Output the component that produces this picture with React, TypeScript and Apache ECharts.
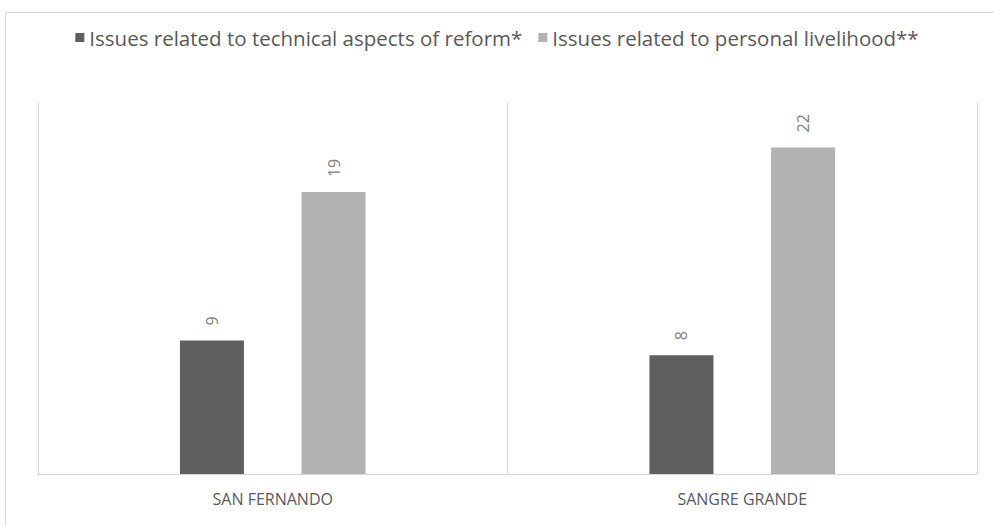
import React, { useEffect, useRef } from "react";
import * as echarts from "echarts";

const categories = ["SAN FERNANDO", "SANGRE GRANDE"];
const seriesNames = [
  "Issues related to technical aspects of reform*",
  "Issues related to personal livelihood**",
];
const technicalValues = [9, 8];
const livelihoodValues = [19, 22];
const colors = ["#5f5f5f", "#b2b2b2"];

export default function App() {
  const ref = useRef<HTMLDivElement>(null);
  useEffect(() => {
    if (!ref.current) return;
    const chart = echarts.init(ref.current, null, { renderer: "svg" });
    const labelCfg = {
      show: true,
      position: "top",
      rotate: 90,
      align: "left",
      verticalAlign: "middle",
      distance: 15,
      color: "#7f7f7f",
      fontFamily: "Open Sans",
      fontSize: 16,
    };
    chart.setOption({
      animation: false,
      backgroundColor: "#ffffff",
      graphic: [
        {
          type: "rect",
          shape: { x: 5.5, y: 12.5, width: 995, height: 530 },
          style: { fill: "none", stroke: "#d9d9d9", lineWidth: 1 },
          silent: true,
        },
      ],
      legend: {
        top: 22,
        left: "center",
        icon: "rect",
        itemWidth: 9,
        itemHeight: 9,
        itemGap: 16,
        textStyle: { color: "#595959", fontSize: 20.5, fontFamily: "Open Sans" },
        data: seriesNames,
      },
      grid: { left: 38, right: 17, top: 103, bottom: 52 },
      xAxis: {
        type: "category",
        data: categories,
        axisLine: { lineStyle: { color: "#d9d9d9", width: 1 } },
        axisTick: { show: false },
        splitLine: { show: true, lineStyle: { color: "#d9d9d9", width: 1 } },
        axisLabel: {
          color: "#595959",
          fontSize: 16,
          fontFamily: "Open Sans",
          margin: 17,
        },
      },
      yAxis: {
        type: "value",
        min: 0,
        max: 25,
        show: false,
        splitLine: { show: false },
      },
      series: [
        {
          name: seriesNames[0],
          type: "bar",
          data: technicalValues,
          barWidth: 64,
          barGap: "90%",
          itemStyle: { color: colors[0] },
          label: labelCfg,
        },
        {
          name: seriesNames[1],
          type: "bar",
          data: livelihoodValues,
          barWidth: 64,
          barGap: "90%",
          itemStyle: { color: colors[1] },
          label: labelCfg,
        },
      ],
    });
    return () => chart.dispose();
  }, []);
  return (
    <div
      ref={ref}
      style={{ position: "fixed", left: 0, top: 0, width: 994, height: 526 }}
    />
  );
}
